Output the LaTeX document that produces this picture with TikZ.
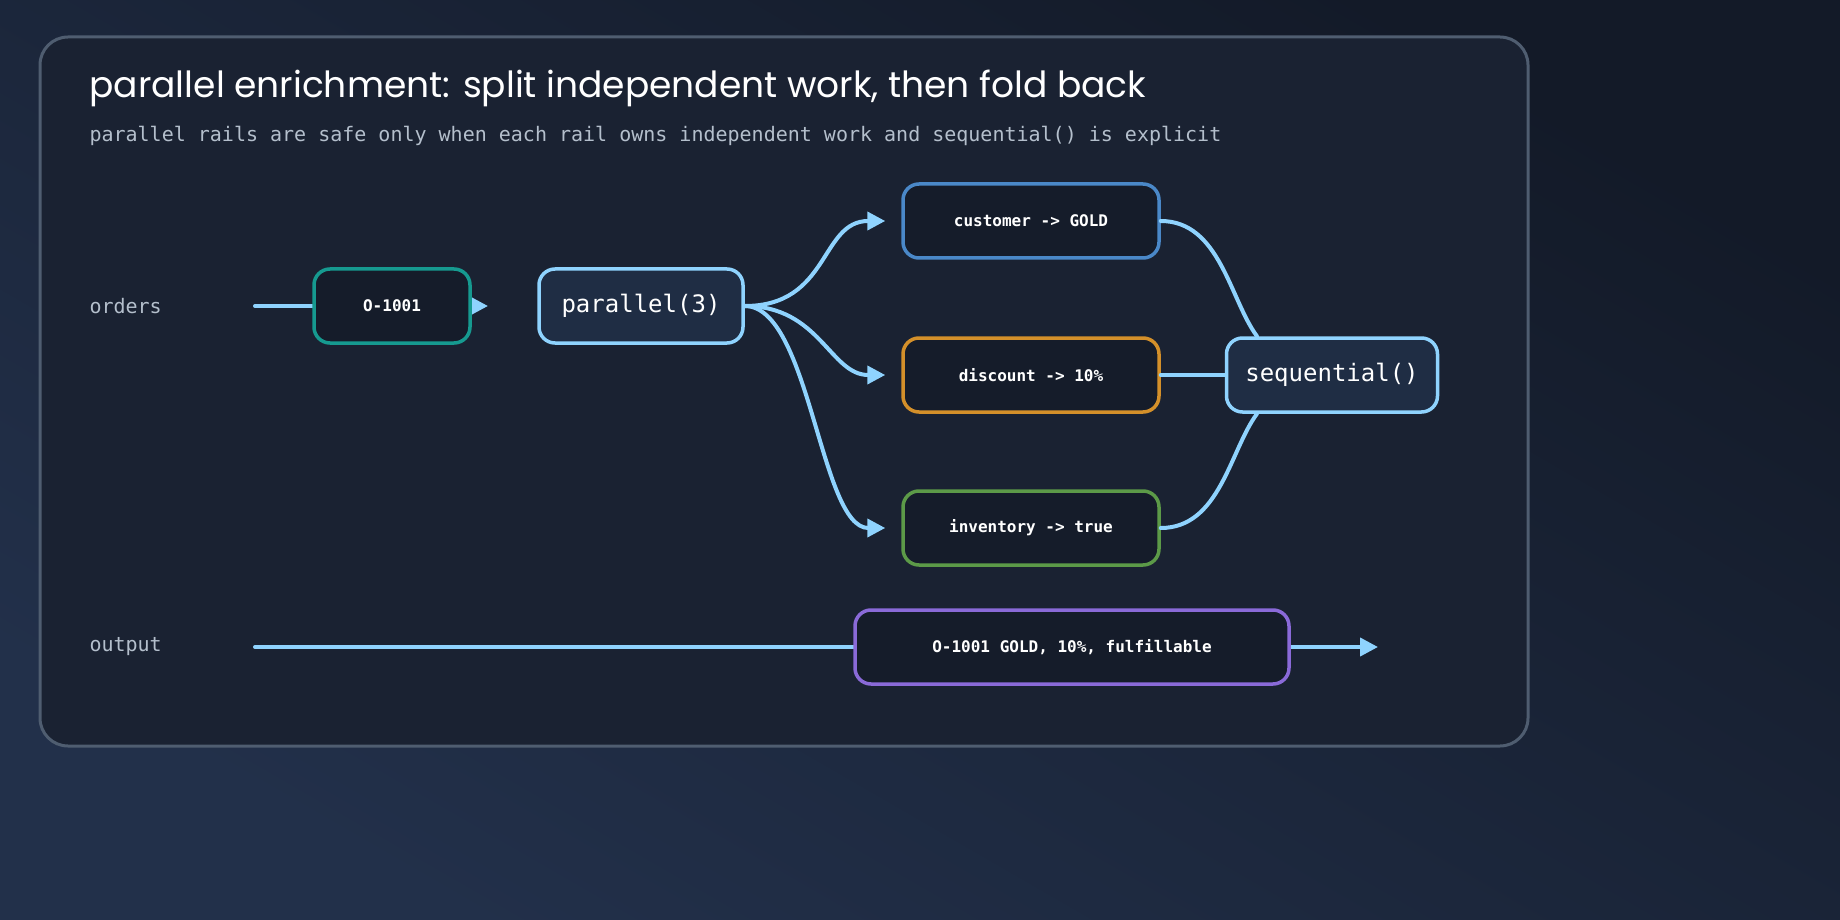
\documentclass[tikz,border=0pt]{standalone}
\usepackage{fontspec}
\setmainfont{Poppins}
\setmonofont{DejaVu Sans Mono}
\usetikzlibrary{arrows.meta,positioning}
\definecolor{bgA}{HTML}{131A28}
\definecolor{bgB}{HTML}{22304A}
\definecolor{panel}{HTML}{1A2232}
\definecolor{frame}{HTML}{4F5D70}
\definecolor{rail}{HTML}{8FD3FE}
\definecolor{boxfill}{HTML}{151C2A}
\definecolor{hubfill}{HTML}{1F2D44}
\definecolor{muted}{HTML}{B4BFCC}
\definecolor{teal}{HTML}{169A90}
\definecolor{blueb}{HTML}{4A88C8}
\definecolor{orangeb}{HTML}{D4902A}
\definecolor{greenb}{HTML}{5C9A48}
\definecolor{purpleb}{HTML}{8A6AD8}
\tikzset{
  stage/.style={draw=#1, line width=3.5pt, fill=boxfill, rounded corners=16pt,
    minimum height=74pt, text=white, font=\ttfamily\bfseries\fontsize{16}{18}\selectfont},
  hub/.style={stage=rail, fill=hubfill, font=\ttfamily\fontsize{24}{28}\selectfont},
  lane/.style={text=muted, font=\ttfamily\fontsize{20}{24}\selectfont, anchor=west},
  flow/.style={draw=rail, line width=4pt, line cap=round},
  tip/.style={-{Triangle[length=18pt,width=18pt]}}
}
\begin{document}
\begin{tikzpicture}[x=1pt,y=-1pt]
   \useasboundingbox (0,0) rectangle (1840,920);
   \begin{scope}
     \clip (0,0) rectangle (1840,920);
     \shade[top color=bgA, bottom color=bgB, shading angle=-30] (0,0) rectangle (1840,920);
   \end{scope}
   \draw[frame, line width=3pt, fill=panel, rounded corners=28pt] (40,37) rectangle (1528,746);

   \node[anchor=west, text=white, font=\fontsize{36}{40}\selectfont] (title) at (86,88)
     {parallel enrichment: split independent work, then fold back};
   \node[lane, text=muted] (sub) at (86,136)
     {parallel rails are safe only when each rail owns independent work and sequential() is explicit};

   \node[lane] (orders) at (86,306) {orders};
   \node[lane] (output) at (86,647) {output};
   \coordinate (inA)  at (255,306);
   \coordinate (inB)  at (488,306);
   \coordinate (outA) at (255,647);
   \coordinate (outB) at (1378,647);

   \draw[flow, tip] (inA) -- (inB);
   \draw[flow, tip] (outA) -- (outB);

   \node[stage=teal, minimum width=156pt]    (order) at (392,306)  {O-1001};
   \node[hub, minimum width=204pt]           (par)   at (641,306)  {parallel(3)};
   \node[stage=blueb, minimum width=256pt]   (cust)  at (1031,221) {customer -> GOLD};
   \node[stage=orangeb, minimum width=256pt] (disc)  at (1031,375) {discount -> 10\%};
   \node[stage=greenb, minimum width=256pt]  (inv)   at (1031,528) {inventory -> true};
   \node[hub, minimum width=211pt]           (seq)   at (1332,375) {sequential()};
   \node[stage=purpleb, minimum width=434pt] (res)   at (1072,647) {O-1001 GOLD, 10\%, fulfillable};

   \draw[flow, tip] (par.east) .. controls (830,306) and (820,221) .. ([xshift=-16pt]cust.west);
   \draw[flow, tip] (par.east) .. controls (820,306) and (830,375) .. ([xshift=-16pt]disc.west);
   \draw[flow, tip] (par.east) .. controls (810,306) and (820,528) .. ([xshift=-16pt]inv.west);
   \draw[flow] (cust.east) .. controls (1220,221) and (1230,300) .. ([xshift=-75pt]seq.north);
   \draw[flow] (disc.east) -- (seq.west);
   \draw[flow] (inv.east) .. controls (1220,528) and (1230,450) .. ([xshift=-75pt]seq.south);
\end{tikzpicture}
\end{document}
